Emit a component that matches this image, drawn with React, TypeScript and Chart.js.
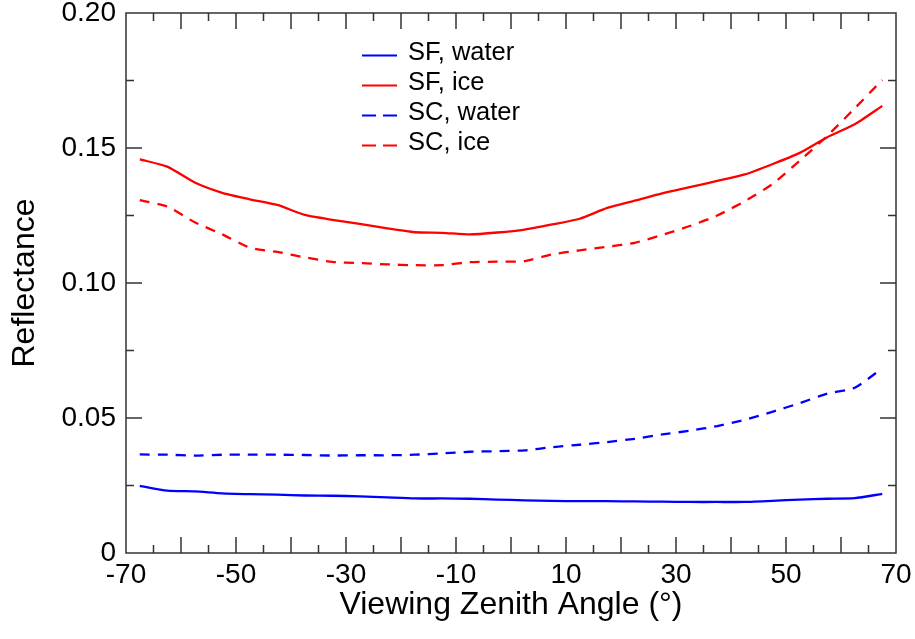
import React, { useEffect, useRef } from "react";
import { Chart, registerables } from "chart.js";

Chart.register(...registerables);

// Viewing zenith angles (degrees)
const angles = [
  -67.5, -62.5, -57.5, -52.5, -47.5, -42.5, -37.5, -32.5, -27.5, -22.5, -17.5, -12.5, -7.5, -2.5,
  2.5, 7.5, 12.5, 17.5, 22.5, 27.5, 32.5, 37.5, 42.5, 47.5, 52.5, 57.5, 62.5, 67.5,
];

const sfWater = [
  0.0249, 0.0231, 0.0228, 0.0221, 0.0218, 0.0216, 0.0213, 0.0212, 0.021, 0.0206, 0.0202, 0.0202, 0.0201, 0.0198,
  0.0195, 0.0193, 0.0192, 0.0192, 0.0191, 0.019, 0.0189, 0.0189, 0.0189, 0.0193, 0.0198, 0.0201, 0.0203, 0.0219,
];

const sfIce = [
  0.1458, 0.1431, 0.1372, 0.1334, 0.131, 0.1289, 0.1252, 0.1234, 0.1219, 0.1202, 0.1188, 0.1186, 0.118, 0.1187,
  0.1198, 0.1217, 0.1238, 0.1278, 0.1305, 0.1332, 0.1355, 0.1378, 0.1402, 0.144, 0.1482, 0.154, 0.1588, 0.1656,
];

const scWater = [
  0.0365, 0.0364, 0.0361, 0.0364, 0.0364, 0.0364, 0.0363, 0.0361, 0.0362, 0.0362, 0.0364, 0.0369, 0.0375, 0.0377,
  0.038, 0.0392, 0.0401, 0.0411, 0.0423, 0.0439, 0.0453, 0.047, 0.0493, 0.0523, 0.0555, 0.059, 0.0612, 0.0684,
];

const scIce = [
  0.1307, 0.1283, 0.1225, 0.118, 0.1131, 0.1115, 0.1095, 0.1078, 0.1074, 0.1069, 0.1066, 0.1066, 0.1077, 0.1079,
  0.1081, 0.1106, 0.1121, 0.1134, 0.1149, 0.1178, 0.1211, 0.125, 0.1303, 0.1366, 0.1453, 0.1545, 0.1647, 0.1752,
];

const seriesLabels = ["SF, water", "SF, ice", "SC, water", "SC, ice"];
const xTickLabels = [-70, -50, -30, -10, 10, 30, 50, 70];
const yTickLabels = [0, 0.05, 0.1, 0.15, 0.2];

const FONT = '"Liberation Sans", Arial, Helvetica, sans-serif';
const BLUE = "#0000ff";
const RED = "#ff0000";

const framePlugin = {
  id: "frame",
  afterDatasetsDraw(chart: any) {
    const { ctx, chartArea: a, scales } = chart;
    const x = scales.x;
    const y = scales.y;
    ctx.save();
    ctx.strokeStyle = "#333333";
    ctx.lineWidth = 1.5;
    ctx.strokeRect(a.left, a.top, a.right - a.left, a.bottom - a.top);

    const MAJ = 16;
    const MIN = 8;
    ctx.beginPath();
    const xt = x.ticks.map((t: any) => t.value);
    for (let i = 0; i < xt.length; i++) {
      const px = x.getPixelForValue(xt[i]);
      if (i > 0 && i < xt.length - 1) {
        ctx.moveTo(px, a.bottom);
        ctx.lineTo(px, a.bottom - MAJ);
        ctx.moveTo(px, a.top);
        ctx.lineTo(px, a.top + MAJ);
      }
      if (i < xt.length - 1) {
        const pm = x.getPixelForValue((xt[i] + xt[i + 1]) / 2);
        ctx.moveTo(pm, a.bottom);
        ctx.lineTo(pm, a.bottom - MIN);
        ctx.moveTo(pm, a.top);
        ctx.lineTo(pm, a.top + MIN);
      }
    }
    const yt = y.ticks.map((t: any) => t.value);
    for (let i = 0; i < yt.length; i++) {
      const py = y.getPixelForValue(yt[i]);
      if (i > 0 && i < yt.length - 1) {
        ctx.moveTo(a.left, py);
        ctx.lineTo(a.left + MAJ, py);
        ctx.moveTo(a.right, py);
        ctx.lineTo(a.right - MAJ, py);
      }
      if (i < yt.length - 1) {
        const pm = y.getPixelForValue((yt[i] + yt[i + 1]) / 2);
        ctx.moveTo(a.left, pm);
        ctx.lineTo(a.left + MIN, pm);
        ctx.moveTo(a.right, pm);
        ctx.lineTo(a.right - MIN, pm);
      }
    }
    ctx.stroke();

    // Legend
    const lx0 = 362;
    const lx1 = 397;
    const tx = 408;
    const ty0 = 52.5;
    const step = 30;
    ctx.font = `25.5px ${FONT}`;
    ctx.textBaseline = "middle";
    ctx.textAlign = "left";
    chart.data.datasets.forEach((ds: any, i: number) => {
      const ty = ty0 + i * step;
      ctx.beginPath();
      ctx.strokeStyle = ds.borderColor;
      ctx.lineWidth = 2.2;
      ctx.setLineDash(ds.borderDash && ds.borderDash.length ? [14, 7] : []);
      ctx.moveTo(lx0, ty + 3);
      ctx.lineTo(lx1, ty + 3);
      ctx.stroke();
      ctx.setLineDash([]);
      ctx.fillStyle = "#000";
      ctx.fillText(ds.label, tx, ty);
    });
    ctx.restore();
  },
};

export default function App() {
  const ref = useRef<HTMLCanvasElement | null>(null);

  useEffect(() => {
    if (!ref.current) return;
    const mk = (vals: number[]) => angles.map((a, i) => ({ x: a, y: vals[i] }));
    const chart = new Chart(ref.current, {
      type: "line",
      data: {
        datasets: [
          { label: seriesLabels[0], data: mk(sfWater), borderColor: BLUE, borderDash: [] },
          { label: seriesLabels[1], data: mk(sfIce), borderColor: RED, borderDash: [] },
          { label: seriesLabels[2], data: mk(scWater), borderColor: BLUE, borderDash: [10, 8] },
          { label: seriesLabels[3], data: mk(scIce), borderColor: RED, borderDash: [10, 8] },
        ].map((d) => ({ ...d, borderWidth: 2.3, pointRadius: 0, tension: 0.2, fill: false })),
      },
      options: {
        responsive: false,
        animation: false,
        events: [],
        layout: { padding: { top: 13, right: 19, left: 0, bottom: 0 } },
        plugins: { legend: { display: false }, tooltip: { enabled: false } },
        scales: {
          x: {
            type: "linear",
            min: -70,
            max: 70,
            grid: { display: false, drawTicks: false },
            border: { display: false },
            ticks: {
              stepSize: 10,
              autoSkip: false,
              maxRotation: 0,
              padding: 5,
              color: "#000",
              font: { family: FONT, size: 28 },
              callback: (v: any) => {
                const n = Math.round(Number(v));
                return xTickLabels.includes(n) ? String(n) : "";
              },
            },
            title: {
              display: true,
              text: "Viewing Zenith Angle (°)",
              color: "#000",
              font: { family: FONT, size: 32 },
              padding: { top: 0, bottom: 15 },
            },
            afterFit: (s: any) => {
              s.height = 86;
              s.paddingLeft = 0;
              s.paddingRight = 0;
            },
          },
          y: {
            type: "linear",
            min: 0,
            max: 0.2,
            grid: { display: false, drawTicks: false },
            border: { display: false },
            ticks: {
              stepSize: 0.05,
              padding: 10,
              color: "#000",
              font: { family: FONT, size: 28 },
              callback: (v: any) => {
                const n = Number(v);
                const hit = yTickLabels.find((t) => Math.abs(t - n) < 1e-9);
                if (hit === undefined) return "";
                return hit === 0 ? "0" : hit.toFixed(2);
              },
            },
            title: {
              display: true,
              text: "Reflectance",
              color: "#000",
              font: { family: FONT, size: 32 },
              padding: { top: 6, bottom: 0 },
            },
            afterFit: (s: any) => {
              s.width = 126;
              s.paddingTop = 0;
              s.paddingBottom = 0;
            },
          },
        },
      },
      plugins: [framePlugin],
    } as any);
    return () => chart.destroy();
  }, []);

  return (
    <div style={{ position: "fixed", left: 0, top: 0, width: 915, height: 639, background: "#fff" }}>
      <canvas ref={ref} width={915} height={639} style={{ display: "block" }} />
    </div>
  );
}
